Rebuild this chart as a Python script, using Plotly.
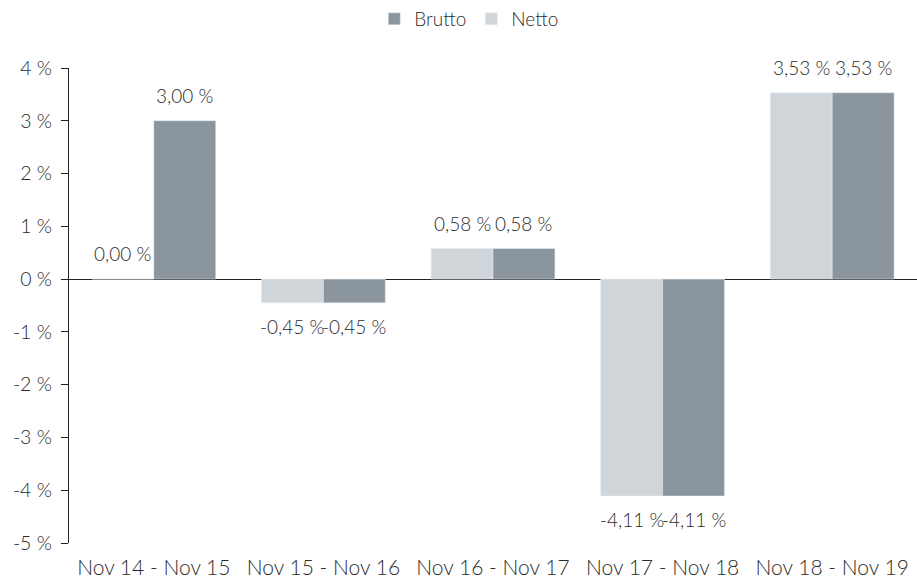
import plotly.graph_objects as go

categories = ["Nov 14 - Nov 15", "Nov 15 - Nov 16", "Nov 16 - Nov 17", "Nov 17 - Nov 18", "Nov 18 - Nov 19"]
netto = [0.00, -0.45, 0.58, -4.11, 3.53]
brutto = [3.00, -0.45, 0.58, -4.11, 3.53]
tick_vals = [4, 3, 2, 1, 0, -1, -2, -3, -4, -5]
tick_text = ["4 %", "3 %", "2 %", "1 %", "0 %", "-1 %", "-2 %", "-3 %", "-4 %", "-5 %"]

def fmt(v):
    return f"{v:.2f}".replace(".", ",") + " %"

FONT = "Lato, 'Open Sans', sans-serif"
TXT = "#2b2b2b"
BARGAP = 0.27
W, H = 917, 581
ML, MR, MT, MB = 69, 0, 68, 38
plot_w = W - ML - MR
cat_px = plot_w / len(categories)
bar_px = cat_px * (1 - BARGAP) / 2

fig = go.Figure()
fig.add_trace(go.Bar(name="Netto", x=categories, y=netto, marker_color="#D0D5D9"))
fig.add_trace(go.Bar(name="Brutto", x=categories, y=brutto, marker_color="#8A959E"))

for series, sign in ((netto, -1), (brutto, 1)):
    for c, v in zip(categories, series):
        pos = v >= 0
        fig.add_annotation(x=c, y=v, xref="x", yref="y", text=fmt(v), showarrow=False,
                           xshift=sign * bar_px / 2, yshift=12 if pos else -10,
                           yanchor="bottom" if pos else "top",
                           font=dict(size=19, color=TXT, family=FONT, weight=300))

fig.update_layout(
    width=W, height=H,
    margin=dict(l=ML, r=MR, t=MT, b=MB),
    paper_bgcolor="white", plot_bgcolor="white",
    font=dict(family=FONT, size=19, color=TXT, weight=300),
    barmode="group", bargap=BARGAP, bargroupgap=0,
    legend=dict(orientation="h", traceorder="reversed", x=0.472, xanchor="center",
                y=1.0, yref="container", yanchor="top",
                font=dict(size=19, color=TXT, family=FONT, weight=300)),
    xaxis=dict(showline=False, ticks="", showgrid=False, zeroline=False, automargin=False,
               ticklabelstandoff=10,
               tickfont=dict(size=21, color=TXT, family=FONT, weight=300), range=[-0.5, 4.5]),
    yaxis=dict(range=[-5, 4], tickvals=tick_vals, ticktext=tick_text, automargin=False,
               showgrid=False, zeroline=True, zerolinecolor="#222", zerolinewidth=1.3,
               showline=True, linecolor="#222", linewidth=1.3,
               ticks="outside", ticklen=7, tickcolor="#222", tickwidth=1.3,
               ticklabelstandoff=5,
               tickfont=dict(size=19.5, color=TXT, family=FONT, weight=300)),
)

fig.write_html("out.html", config={"displayModeBar": False},
               post_script="document.body.style.margin='0';")
